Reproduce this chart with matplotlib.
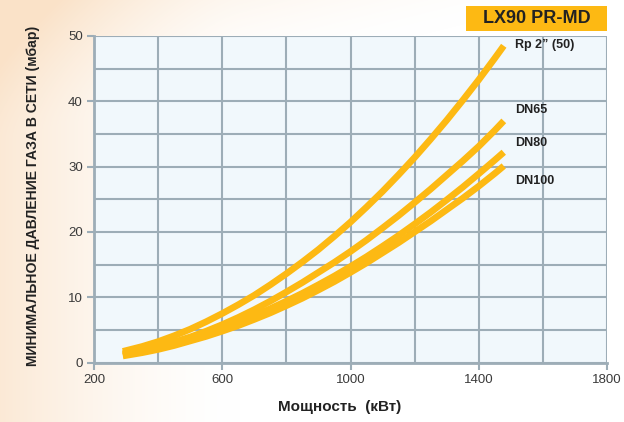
import numpy as np
import matplotlib
matplotlib.use("Agg")
import matplotlib.pyplot as plt
from matplotlib.patches import Rectangle

# Power (kW) and minimum gas supply pressure (mbar) per connection size
power_kw = [290, 350, 400, 450, 500, 550, 600, 650, 700, 750, 800, 850, 900,
            950, 1000, 1050, 1100, 1150, 1200, 1250, 1300, 1350, 1400, 1450, 1478]
rp2 = [1.7, 2.45, 3.2, 4.1, 5.1, 6.25, 7.5, 8.85, 10.3, 11.9, 13.6, 15.4, 17.3,
       19.35, 21.5, 23.8, 26.2, 28.75, 31.4, 34.2, 37.1, 40.15, 43.3, 46.6, 48.5]
dn65 = [1.35, 1.95, 2.5, 3.15, 3.9, 4.8, 5.8, 6.9, 8.1, 9.4, 10.8, 12.25, 13.8,
        15.35, 17.0, 18.75, 20.6, 22.5, 24.5, 26.55, 28.7, 30.85, 33.1, 35.55, 37.0]
dn80 = [1.2, 1.85, 2.4, 3.0, 3.7, 4.45, 5.3, 6.2, 7.2, 8.25, 9.4, 10.6, 11.9,
        13.25, 14.7, 16.2, 17.8, 19.45, 21.2, 23.0, 24.9, 26.85, 28.9, 31.0, 32.2]
dn100 = [1.0, 1.5, 2.0, 2.6, 3.3, 4.0, 4.8, 5.65, 6.6, 7.6, 8.7, 9.85, 11.1,
         12.4, 13.8, 15.25, 16.8, 18.35, 20.0, 21.65, 23.4, 25.15, 27.0, 28.95, 30.1]

series_names = ["Rp 2\u201d (50)", "DN65", "DN80", "DN100"]
series_values = [rp2, dn65, dn80, dn100]
label_y = [48.6, 38.6, 33.6, 27.8]

x_ticks = [200, 600, 1000, 1400, 1800]
y_ticks = [0, 10, 20, 30, 40, 50]

title_text = "LX90 PR-MD"
x_label = "Мощность  (кВт)"
y_label = "МИНИМАЛЬНОЕ ДАВЛЕНИЕ ГАЗА В СЕТИ (мбар)"

curve_color = "#FDB913"
grid_color = "#9DADB7"
panel_color = "#F1F8FC"
text_color = "#222222"

plt.rcParams['font.family'] = ['Liberation Sans', 'DejaVu Sans']

W, H = 624, 422
fig = plt.figure(figsize=(W / 100, H / 100), dpi=100)

# warm backdrop fading from the left edge
bg = fig.add_axes([0, 0, 1, 1], zorder=-10)
yy, xx = np.mgrid[0:H, 0:W]
fade_x = np.clip(1 - xx / 240.0, 0, 1) ** 1.6
fade_top = np.clip(1 - (xx / 560.0) - (yy / 140.0), 0, 1) ** 1.5
amount = np.clip(0.75 * fade_x + 0.6 * fade_top, 0, 1)
warm = np.array([250, 226, 200]) / 255.0
img = 1 - amount[..., None] * (1 - warm[None, None, :])
bg.imshow(img, aspect="auto", extent=[0, 1, 0, 1], origin="upper")
bg.axis("off")

ax = fig.add_axes([94 / W, 59.5 / H, 513 / W, 326.5 / H])
ax.set_facecolor(panel_color)
ax.set_xlim(200, 1800)
ax.set_ylim(0, 50)

ax.set_xticks(x_ticks)
ax.set_yticks(y_ticks)
ax.set_xticks(np.arange(200, 1801, 200), minor=True)
ax.set_yticks(np.arange(0, 51, 5), minor=True)
ax.grid(which="both", color=grid_color, linewidth=1.5, zorder=1)
ax.set_axisbelow(True)

for side in ["left", "bottom"]:
    ax.spines[side].set_color(grid_color)
    ax.spines[side].set_linewidth(2.0)
for side in ["top", "right"]:
    ax.spines[side].set_visible(False)

ax.tick_params(which="major", direction="out", length=5, width=1.5,
               color=grid_color, labelsize=9.5, labelcolor="#3a3a3a", pad=3)
ax.tick_params(which="minor", length=0)

for name, vals, ly in zip(series_names, series_values, label_y):
    ax.plot(power_kw, vals, color=curve_color, linewidth=4.8,
            solid_capstyle="butt", solid_joinstyle="round", zorder=3,
            clip_on=False)
    ax.text(1512, ly, name, fontsize=9, fontweight="bold", color=text_color,
            va="center", ha="left")

ax.set_xlabel(x_label, fontsize=11, fontweight="bold", color=text_color)
ax.xaxis.set_label_coords((340 - 94) / 513, -(406 - 362) / 326.5)
ax.xaxis.label.set_va("center")
ax.set_ylabel(y_label, fontsize=10.1, fontweight="bold", color=text_color)
ax.yaxis.set_label_coords(-(94 - 33) / 513, 0.51)
ax.yaxis.label.set_va("center")

# model badge in the top-right corner
fig.add_artist(Rectangle((466 / W, 1 - 30.7 / H), 141 / W, 24.7 / H,
                         transform=fig.transFigure, facecolor=curve_color,
                         edgecolor="none"))
fig.text(536.5 / W, 1 - 18.5 / H, title_text, fontsize=13, fontweight="bold",
         color=text_color, ha="center", va="center")

fig.savefig("out.png", dpi=100)
